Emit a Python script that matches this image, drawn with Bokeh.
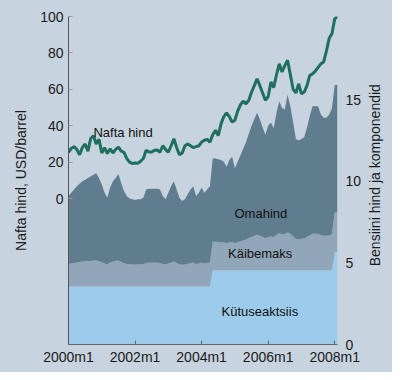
import math
from bokeh.plotting import figure
from bokeh.layouts import row
from bokeh.models import Range1d, LinearAxis, FixedTicker, Label
from bokeh.embed import file_html
from bokeh.resources import INLINE

# Monthly data, 2000m1 .. 2008m2
start_year = 2000
nafta_hind = [  # USD/barrel (left axis)
    25.4, 27.5, 28.5, 27.0, 24.0, 28.0, 30.0, 26.0, 33.0, 34.5, 30.0, 32.5,
    25.0, 28.0, 24.7, 27.3, 25.0, 27.0, 28.2, 26.0, 25.4, 22.0, 20.0, 19.3,
    19.5, 19.4, 20.5, 22.0, 26.5, 25.5, 25.5, 26.5, 26.7, 25.4, 29.0, 27.0,
    25.4, 29.0, 32.8, 28.0, 24.0, 25.0, 29.0, 30.0, 29.0, 28.0, 28.5, 29.0,
    31.0, 32.0, 32.5, 31.0, 35.0, 37.5, 34.6, 41.0, 45.0, 47.0, 45.0, 42.0,
    43.0, 48.0, 51.5, 53.5, 52.0, 54.0, 58.4, 62.0, 65.8, 62.0, 58.0, 54.0,
    56.0, 64.0, 61.0, 68.0, 74.0, 69.5, 73.0, 76.0, 68.0, 60.0, 58.0, 63.0,
    57.5, 58.5, 62.0, 67.6, 68.5, 70.0, 72.0, 74.0, 75.0, 81.0, 88.0, 90.5,
    98.7, 100.0,
]
bensiini_hind = [  # total petrol price (right axis)
    9.1, 9.3, 9.5, 9.7, 9.85, 10.0, 10.1, 10.2, 10.3, 10.4, 10.5, 10.2,
    9.8, 9.3, 9.0, 9.6, 10.0, 10.2, 10.45, 9.9, 9.4, 9.1, 8.95, 8.9,
    8.85, 8.9, 8.9, 9.0, 9.5, 9.55, 9.55, 9.55, 9.55, 9.5, 9.1, 8.9,
    9.3, 9.7, 10.0, 9.5, 9.0, 8.8, 8.9, 9.2, 9.5, 9.7, 9.1, 9.3,
    9.6, 9.3, 9.5, 9.7, 11.4, 11.4, 11.35, 11.3, 11.2, 10.9, 11.3, 11.5,
    10.8, 11.2, 11.6, 12.0, 12.4, 12.9, 13.4, 13.8, 14.2, 13.8, 13.3, 12.85,
    13.4, 13.6, 13.25, 14.2, 14.9, 14.5, 14.4, 15.3, 14.6, 13.6, 12.6, 12.5,
    12.6, 12.7, 13.3, 14.0, 14.6, 14.6, 14.6, 14.1, 13.9, 13.9, 14.1, 14.5,
    15.9, 15.9,
]
kaibemaks = [
    1.39, 1.42, 1.45, 1.48, 1.50, 1.53, 1.54, 1.56, 1.57, 1.59, 1.60, 1.56,
    1.49, 1.42, 1.37, 1.46, 1.53, 1.56, 1.59, 1.51, 1.43, 1.39, 1.37, 1.36,
    1.35, 1.36, 1.36, 1.37, 1.45, 1.46, 1.46, 1.46, 1.46, 1.45, 1.39, 1.36,
    1.42, 1.48, 1.53, 1.45, 1.37, 1.34, 1.36, 1.40, 1.45, 1.48, 1.39, 1.42,
    1.46, 1.42, 1.45, 1.48, 1.74, 1.74, 1.73, 1.72, 1.71, 1.66, 1.72, 1.75,
    1.65, 1.71, 1.77, 1.83, 1.89, 1.97, 2.04, 2.11, 2.17, 2.11, 2.03, 1.96,
    2.04, 2.07, 2.02, 2.17, 2.27, 2.21, 2.20, 2.33, 2.23, 2.07, 1.92, 1.91,
    1.92, 1.94, 2.03, 2.14, 2.23, 2.23, 2.23, 2.15, 2.12, 2.12, 2.15, 2.21,
    2.43, 2.43,
]
kytuseaktsiis = [
    3.55, 3.55, 3.55, 3.55, 3.55, 3.55, 3.55, 3.55, 3.55, 3.55, 3.55, 3.55,
    3.55, 3.55, 3.55, 3.55, 3.55, 3.55, 3.55, 3.55, 3.55, 3.55, 3.55, 3.55,
    3.55, 3.55, 3.55, 3.55, 3.55, 3.55, 3.55, 3.55, 3.55, 3.55, 3.55, 3.55,
    3.55, 3.55, 3.55, 3.55, 3.55, 3.55, 3.55, 3.55, 3.55, 3.55, 3.55, 3.55,
    3.55, 3.55, 3.55, 3.55, 4.55, 4.55, 4.55, 4.55, 4.55, 4.55, 4.55, 4.55,
    4.55, 4.55, 4.55, 4.55, 4.55, 4.55, 4.55, 4.55, 4.55, 4.55, 4.55, 4.55,
    4.55, 4.55, 4.55, 4.55, 4.55, 4.55, 4.55, 4.55, 4.55, 4.55, 4.55, 4.55,
    4.55, 4.55, 4.55, 4.55, 4.55, 4.55, 4.55, 4.55, 4.55, 4.55, 4.55, 4.55,
    5.67, 5.67,
]
x_ticks = [2000, 2002, 2004, 2006, 2008]
x_tick_labels = ["2000m1", "2002m1", "2004m1", "2006m1", "2008m1"]
left_ticks = [0, 20, 40, 60, 80, 100]
right_ticks = [0, 5, 10, 15]

months = [start_year + i / 12 for i in range(len(nafta_hind))]
stack1 = kytuseaktsiis
stack2 = [a + b for a, b in zip(kytuseaktsiis, kaibemaks)]

BG = "#c7d3df"
FONT = "Liberation Sans"
H = 372

p = figure(width=365, height=H, output_backend="svg", toolbar_location=None,
           x_range=Range1d(months[0], months[-1]), y_range=Range1d(-80.2, 100),
           min_border_left=68, min_border_right=28, min_border_top=16,
           min_border_bottom=28)
p.extra_y_ranges = {"right": Range1d(0, 20.1)}
p.background_fill_color = BG
p.border_fill_color = BG
p.outline_line_color = None
p.grid.visible = False

p.varea(x=months, y1=[0] * len(months), y2=stack1, y_range_name="right",
        fill_color="#9ccbec")
p.varea(x=months, y1=stack1, y2=stack2, y_range_name="right",
        fill_color="#91a6b8")
p.varea(x=months, y1=stack2, y2=bensiini_hind, y_range_name="right",
        fill_color="#5f7d8f")
p.line(months, nafta_hind, line_width=3, line_color="#1e6f5c")

right = LinearAxis(y_range_name="right")
p.add_layout(right, "right")

for ax in p.xaxis + p.yaxis:
    ax.major_label_text_font = FONT
    ax.major_label_text_font_size = "14px"
    ax.major_label_text_color = "#1a1a1a"
    ax.axis_label_text_font = FONT
    ax.axis_label_text_font_size = "14px"
    ax.axis_label_text_font_style = "normal"
    ax.axis_label_text_color = "#1a1a1a"
    ax.minor_tick_line_color = None
    ax.major_tick_in = 4
    ax.major_tick_out = 0

p.xaxis.ticker = FixedTicker(ticks=x_ticks)
p.xaxis.major_label_overrides = {t: l for t, l in zip(x_ticks, x_tick_labels)}
p.xaxis.axis_line_color = "#666666"
p.xaxis.major_tick_line_color = "#666666"
p.xaxis.major_label_standoff = 4

left = p.yaxis[0]
left.ticker = FixedTicker(ticks=left_ticks)
left.axis_label = "Nafta hind, USD/barrel"
left.axis_line_color = "#555555"
left.major_tick_line_color = "#999999"
left.major_label_standoff = 5
left.axis_label_standoff = 8

right.ticker = FixedTicker(ticks=right_ticks)
right.axis_line_color = None
right.major_tick_line_color = None
right.major_label_standoff = 8

def lab(x, y, text, align="center", rng="default"):
    kw = dict(x=x, y=y, text=text, text_font=FONT, text_font_size="13px",
              text_align=align, text_baseline="middle", text_color="#111111")
    if rng != "default":
        kw["y_range_name"] = rng
    p.add_layout(Label(**kw))

lab(2000.75, 36.4, "Nafta hind", align="left")
lab(2005.78, 8.0, "Omahind", rng="right")
lab(2005.76, 5.55, "Käibemaks", rng="right")
lab(2005.75, 2.0, "Kütuseaktsiis", rng="right")

# narrow strip holding the right axis title (reads bottom to top)
W2 = 27
p2 = figure(width=W2, height=H, output_backend="svg", toolbar_location=None,
            x_range=Range1d(0, W2), y_range=Range1d(0, H),
            x_axis_location=None, y_axis_location=None, min_border=0)
p2.background_fill_color = BG
p2.border_fill_color = BG
p2.outline_line_color = None
p2.grid.visible = False
p2.add_layout(Label(x=9, y=H - 180, text="Bensiini hind ja komponendid",
                    angle=math.pi / 2, text_font=FONT, text_font_size="14px",
                    text_align="center", text_baseline="middle",
                    text_color="#1a1a1a"))

layout = row(p, p2, spacing=0, styles={"background-color": BG})
open("out.html", "w").write(file_html(layout, INLINE))
